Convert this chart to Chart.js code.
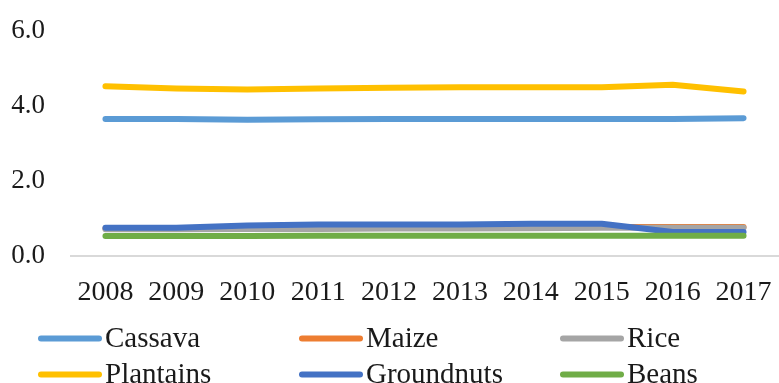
<!DOCTYPE html>
<html>
<head>
<meta charset="utf-8">
<script src="https://cdn.jsdelivr.net/npm/chart.js@4"></script>
<style>
  html, body { margin: 0; padding: 0; background: #fff; overflow: hidden; }
  #wrap { width: 779px; height: 383px; }
</style>
</head>
<body>
<div id="wrap"><canvas id="chart"></canvas></div>
<script>
// values
const years = ['2008', '2009', '2010', '2011', '2012', '2013', '2014', '2015', '2016', '2017'];
const cassava = [3.66, 3.66, 3.64, 3.65, 3.66, 3.66, 3.66, 3.66, 3.66, 3.68];
const maize = [0.74, 0.74, 0.75, 0.75, 0.76, 0.76, 0.77, 0.78, 0.78, 0.78];
const rice = [0.72, 0.72, 0.73, 0.73, 0.74, 0.74, 0.75, 0.76, 0.76, 0.76];
const plantains = [4.53, 4.47, 4.44, 4.47, 4.49, 4.50, 4.50, 4.50, 4.57, 4.39];
const groundnuts = [0.76, 0.76, 0.82, 0.85, 0.85, 0.85, 0.87, 0.87, 0.65, 0.65];
const beans = [0.54, 0.54, 0.54, 0.55, 0.55, 0.55, 0.55, 0.55, 0.55, 0.55];

const names = ['Cassava', 'Maize', 'Rice', 'Plantains', 'Groundnuts', 'Beans'];
const series = [cassava, maize, rice, plantains, groundnuts, beans];
const colors = ['#5b9bd5', '#ed7d31', '#a5a5a5', '#ffc000', '#4472c4', '#70ad47'];

const FONT = "'Liberation Serif', 'Times New Roman', serif";

// legend as a 3 column grid, like the excel one
const gridLegend = {
    id: 'gridLegend',
    afterDraw(chart) {
        const ctx = chart.ctx;
        const base = chart.chartArea.bottom;
        ctx.save();
        ctx.font = '29px ' + FONT;
        ctx.textBaseline = 'middle';
        ctx.fillStyle = '#1a1a1a';
        chart.data.datasets.forEach((ds, i) => {
            const col = i % 3, row = Math.floor(i / 3);
            const x = 38 + col * 261;
            const y = base + 82 + row * 36;
            ctx.strokeStyle = ds.borderColor;
            ctx.lineWidth = 6;
            ctx.lineCap = 'round';
            ctx.beginPath();
            ctx.moveTo(x + 3, y);
            ctx.lineTo(x + 61, y);
            ctx.stroke();
            ctx.fillText(ds.label, x + 67, y + 1);
        });
        ctx.restore();
    }
};

new Chart(document.getElementById('chart'), {
    type: 'line',
    data: {
        labels: years,
        datasets: names.map((n, i) => ({
            label: n,
            data: series[i],
            borderColor: colors[i],
            backgroundColor: colors[i],
            borderWidth: 6,
            borderCapStyle: 'round',
            borderJoinStyle: 'round',
            pointRadius: 0,
            tension: 0,
            fill: false,
            order: names.length - i   // later series on top, like excel
        }))
    },
    options: {
        responsive: true,
        maintainAspectRatio: false,
        animation: false,
        // the original is cropped a little on the right
        layout: { padding: { top: 31, right: -4, bottom: 55, left: 0 } },
        plugins: {
            legend: { display: false },
            tooltip: { enabled: false }
        },
        scales: {
            x: {
                offset: true,
                afterFit(scale) { scale.paddingLeft = 0; scale.paddingRight = 0; },
                grid: { display: false, drawTicks: false },
                border: { display: false },
                ticks: {
                    color: '#1a1a1a',
                    font: { family: FONT, size: 28 },
                    padding: 19,
                    maxRotation: 0,
                    autoSkip: false
                }
            },
            y: {
                min: 0,
                max: 6,
                afterFit(scale) { scale.width = 70; scale.paddingTop = 0; scale.paddingBottom = 0; },
                grid: {
                    drawTicks: false,
                    lineWidth: 2,
                    color: ctx => ctx.tick && ctx.tick.value === 0 ? '#d9d9d9' : 'rgba(0,0,0,0)'
                },
                border: { display: false },
                ticks: {
                    stepSize: 2,
                    padding: 25,
                    color: '#1a1a1a',
                    font: { family: FONT, size: 27 },
                    callback: v => v.toFixed(1)
                }
            }
        }
    },
    plugins: [gridLegend]
});
</script>
</body>
</html>
